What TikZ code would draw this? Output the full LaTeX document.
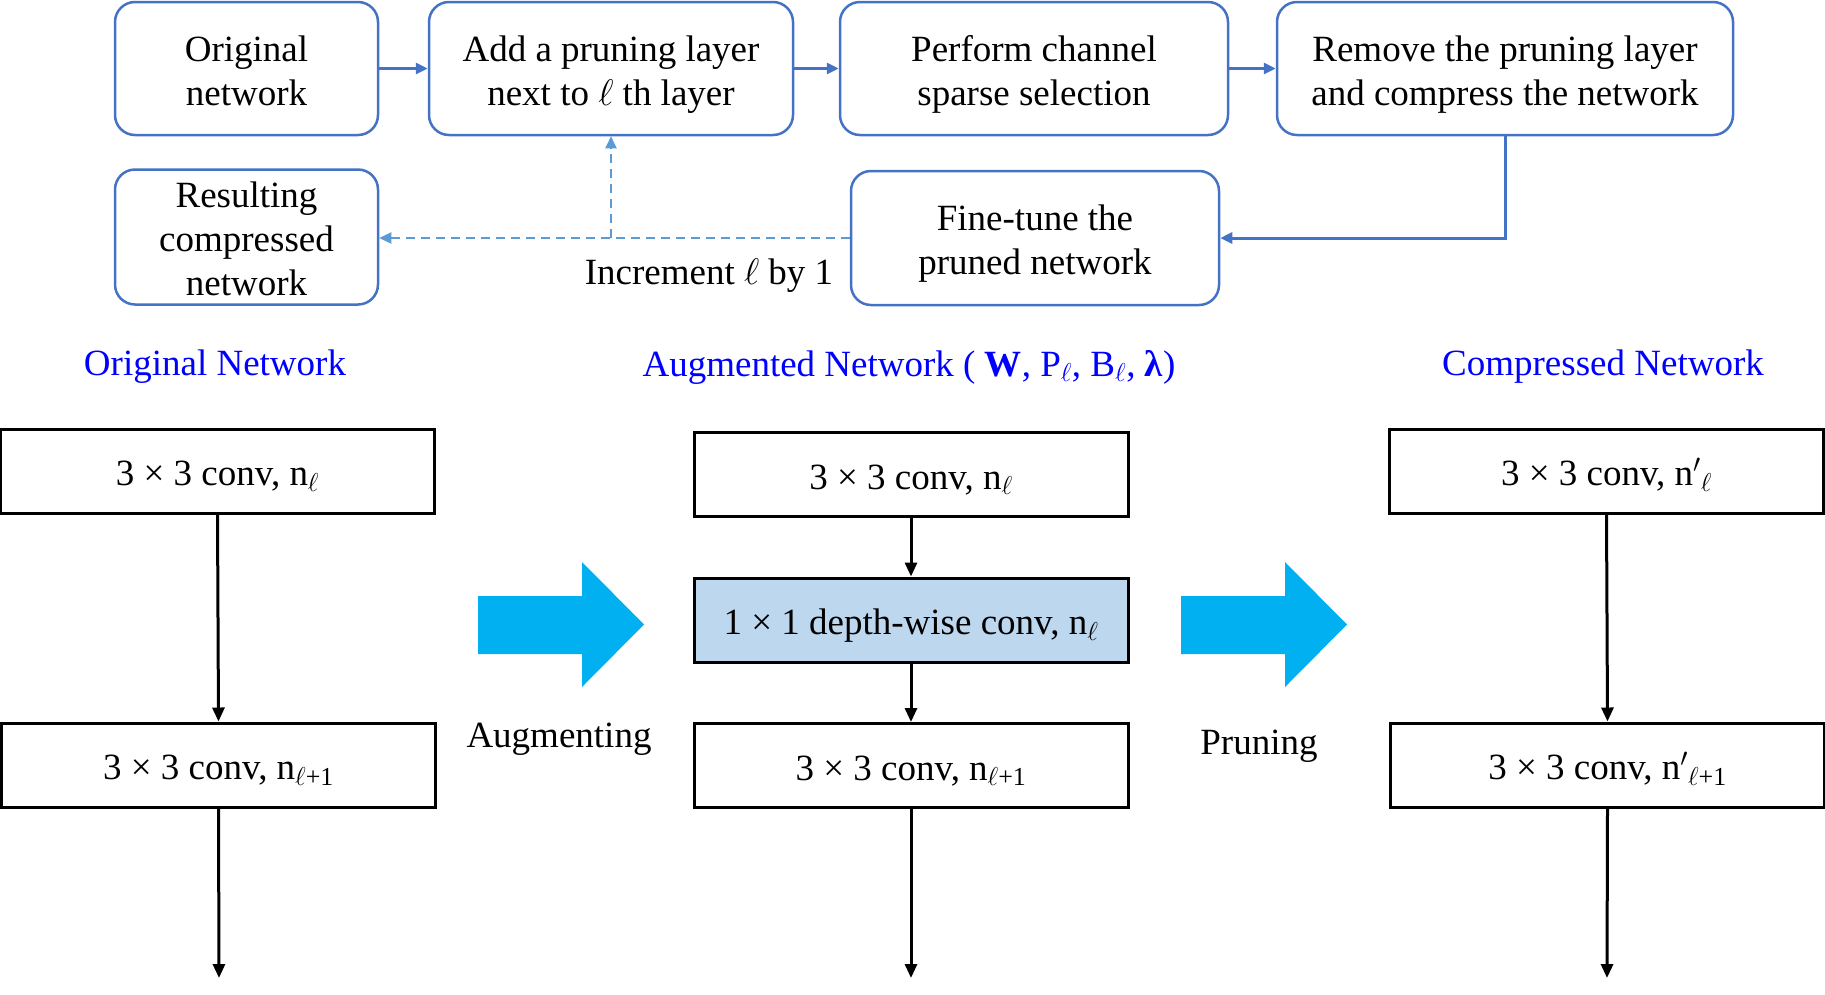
\RequirePackage{fix-cm}
\documentclass[tikz,border=0pt]{standalone}
\usepackage{fontspec}
\setmainfont{Liberation Serif}
\usetikzlibrary{arrows.meta}
\definecolor{obox}{HTML}{4472C4}
\definecolor{dashc}{HTML}{5B9BD5}
\definecolor{bigarrow}{HTML}{00B0F0}
\definecolor{lightfill}{HTML}{BDD7EE}
\definecolor{ttl}{HTML}{0000FF}
\newcommand\lowtxt[1]{\raisebox{-6pt}[\height][\depth]{\begin{tabular}{@{}c@{}}#1\end{tabular}}}
\begin{document}
\begin{tikzpicture}[x=1pt,y=-1pt,
  every node/.style={font=\fontsize{37}{44}\selectfont, inner sep=0pt},
  topbox/.style={draw=obox, line width=2.5pt, rounded corners=20pt},
  convbox/.style={draw=black, line width=3pt, minimum width=434pt, minimum height=84pt},
  barrow/.style={draw=obox, line width=3pt, -{Triangle[length=12pt,width=11pt]}},
  darrow/.style={draw=dashc, line width=2pt, dash pattern=on 9pt off 6pt, -{Triangle[length=12pt,width=11pt]}},
  karrow/.style={draw=black, line width=3pt, -{Triangle[length=14pt,width=12pt]}},
  ttlstyle/.style={text=ttl},
  bigarr/.style={fill=bigarrow}]
\useasboundingbox (0,0) rectangle (1825,994);

% top flow
\node[topbox, minimum width=263pt, minimum height=133pt] (orig) at (246.5,68.5) {\lowtxt{Original\\network}};
\node[topbox, minimum width=364pt, minimum height=133pt] (add) at (611,68.5) {\lowtxt{Add a pruning layer\\next to $\ell$ th layer}};
\node[topbox, minimum width=388pt, minimum height=133pt] (perf) at (1034,68.5) {\lowtxt{Perform channel\\sparse selection}};
\node[topbox, minimum width=456pt, minimum height=133pt] (remv) at (1505,68.5) {\lowtxt{Remove the pruning layer\\and compress the network}};
\node[topbox, minimum width=263pt, minimum height=135pt] (res) at (246.5,237) {\lowtxt{Resulting\\compressed\\network}};
\node[topbox, minimum width=368pt, minimum height=134pt] (fine) at (1035,238) {\lowtxt{Fine-tune the\\pruned network}};

\draw[barrow] (orig.east) -- (add.west);
\draw[barrow] (add.east) -- (perf.west);
\draw[barrow] (perf.east) -- (remv.west);
\draw[barrow] (remv.south) |- (fine.east);
\draw[darrow] (fine.west) -- (fine.west -| res.east);
\draw[darrow] (add.south |- fine.west) -- (add.south);
\node (inc) at (709,276) {Increment $\ell$ by 1};

% titles
\node[ttlstyle] (t1) at (215,367) {Original Network};
\node[ttlstyle] (t2) at (909,367) {Augmented Network ( \textbf{W}, P\textsubscript{$\ell$}, B\textsubscript{$\ell$}, \textbf{λ})};
\node[ttlstyle] (t3) at (1603,367) {Compressed Network};

% original network
\node[convbox] (l1) at (217.5,471) {\lowtxt{3 × 3 conv, n\textsubscript{$\ell$}}};
\node[convbox] (l2) at (218.5,765) {\lowtxt{3 × 3 conv, n\textsubscript{$\ell$+1}}};
\coordinate (l3) at (219,978);
\draw[karrow] (l1.south) -- (l2.north);
\draw[karrow] (l2.south) -- (l3);

% augmented network
\node[convbox] (m1) at (911,474.5) {\lowtxt{3 × 3 conv, n\textsubscript{$\ell$}}};
\node[convbox, fill=lightfill] (m2) at (911,620) {\lowtxt{1 × 1 depth-wise conv, n\textsubscript{$\ell$}}};
\node[convbox] (m3) at (911,765.5) {\lowtxt{3 × 3 conv, n\textsubscript{$\ell$+1}}};
\coordinate (m4) at (911,978);
\draw[karrow] (m1.south) -- (m2.north);
\draw[karrow] (m2.south) -- (m3.north);
\draw[karrow] (m3.south) -- (m4);

% compressed network
\node[convbox] (r1) at (1606.5,471) {\lowtxt{3 × 3 conv, n$'$\textsubscript{$\ell$}}};
\node[convbox] (r2) at (1607.5,765) {\lowtxt{3 × 3 conv, n$'$\textsubscript{$\ell$+1}}};
\coordinate (r3) at (1607,978);
\draw[karrow] (r1.south) -- (r2.north);
\draw[karrow] (r2.south) -- (r3);

% big arrows
\fill[bigarr] (478,596) -- (582,596) -- (582,562) -- (644,624.5) -- (582,687) -- (582,654) -- (478,654) -- cycle;
\fill[bigarr] (1181,596) -- (1285,596) -- (1285,562) -- (1347,624.5) -- (1285,687) -- (1285,654) -- (1181,654) -- cycle;
\node (aug) at (559,739) {Augmenting};
\node (prn) at (1259,746) {Pruning};
\end{tikzpicture}
\end{document}
